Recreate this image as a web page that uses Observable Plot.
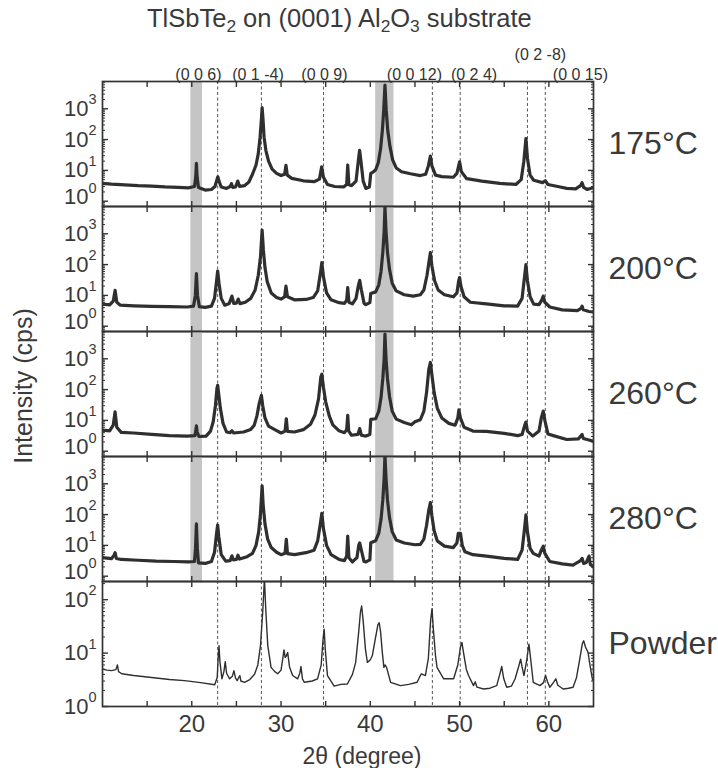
<!DOCTYPE html>
<html><head><meta charset="utf-8">
<script src="https://cdn.jsdelivr.net/npm/d3@7"></script>
<script src="https://cdn.jsdelivr.net/npm/@observablehq/plot@0.6"></script>
<style>
body{margin:0;background:#fff;font-family:"Liberation Sans",Arial,Helvetica,sans-serif;color:#3a3a3a}
#wrap{position:relative;width:718px;height:768px;overflow:hidden;background:#fff}
#wrap svg{position:absolute;left:0}
.t{position:absolute;white-space:nowrap;color:#3a3a3a}
.t sub{font-size:0.68em;vertical-align:-0.3em;line-height:0}
</style></head><body><div id="wrap"></div>
<script>
// ---------- data (2θ in degrees, intensity in cps) ----------
const panelLabels = ["175°C", "200°C", "260°C", "280°C", "Powder"];
const hklNames   = ["(0 0 6)", "(0 1 -4)", "(0 0 9)", "(0 0 12)", "(0 2 4)", "(0 2 -8)", "(0 0 15)"];
const hklLineAt  = [22.9, 27.8, 34.76, 46.95, 50.07, 57.6, 59.6];
const hklLabelAt = [20.75, 27.41, 34.86, 44.94, 51.62, 59.05, 63.53];
const bandStart  = [19.9, 40.6];
const bandEnd    = [21.2, 42.65];
const xTicks     = [15, 20, 25, 30, 35, 40, 45, 50, 55, 60];
const xTickLabels = [20, 30, 40, 50, 60];
const decades    = [1, 10, 100, 1000];

const scan175 = [[10.0,3.8],[11.0,3.6],[12.5,3.4],[14,3.2],[15.5,3.1],[17,2.9],[18.5,2.8],[19.6,2.7],[20.3,3.0],[20.44,6],[20.52,17],[20.6,6],[20.75,2.8],[21.5,2.3],[22.2,2.4],[22.6,3.0],[22.8,4.8],[22.92,6.2],[23.05,4.5],[23.3,2.9],[23.9,2.6],[24.3,3.0],[24.45,3.7],[24.6,2.8],[24.9,2.9],[25.15,4.5],[25.35,3.0],[25.9,3.2],[26.4,4.2],[26.8,7.5],[27.2,15],[27.45,35],[27.65,120],[27.8,450],[27.88,1100],[27.98,450],[28.1,120],[28.3,45],[28.6,20],[29.0,11],[29.5,8],[30.0,6.8],[30.4,7.5],[30.55,14.6],[30.7,7],[31.2,5.5],[32.5,4.6],[33.7,4.3],[34.3,5.2],[34.55,13],[34.75,6],[35.2,3.5],[36.0,3.0],[37.0,2.9],[37.35,3.5],[37.47,15],[37.6,3.4],[37.9,3.2],[38.4,4.5],[38.65,20],[38.8,45],[38.95,20],[39.2,4.5],[39.5,2.6],[39.9,2.9],[40.05,8],[40.3,8.8],[40.6,10.5],[40.9,18],[41.15,50],[41.35,200],[41.5,900],[41.64,5900],[41.78,900],[41.95,200],[42.2,60],[42.5,22],[42.9,12],[43.5,9],[44.5,7.8],[45.6,6.8],[46.2,7.5],[46.5,14],[46.73,29],[46.9,14],[47.3,7],[48.0,6.3],[49.3,6.0],[49.7,8],[50.0,19],[50.2,9],[50.8,5.4],[52.5,4.5],[54.5,3.8],[56.3,3.5],[56.9,5],[57.2,20],[57.43,108],[57.6,25],[57.9,7],[58.3,4.8],[59.3,4.0],[59.6,4.6],[59.9,3.5],[61.0,3.0],[62.0,2.6],[63.0,2.5],[63.55,3.2],[63.72,4.0],[63.9,2.8],[64.3,2.4],[65.0,2.8]];

const scan200 = [[10.0,5.2],[10.8,4.9],[11.2,6.5],[11.41,14.6],[11.6,6],[12.0,4.8],[13.5,4.6],[15.5,4.4],[17.5,4.3],[19.5,4.2],[20.2,4.5],[20.4,10],[20.52,51],[20.64,10],[20.85,4.3],[21.5,4.1],[22.2,4.5],[22.55,8],[22.75,25],[22.9,62],[23.05,25],[23.3,8],[23.7,4.8],[24.2,5.5],[24.5,9.5],[24.7,5.5],[25.0,5.6],[25.2,7.6],[25.4,5.4],[26.0,6],[26.6,8],[27.1,15],[27.45,45],[27.7,180],[27.88,1320],[28.02,300],[28.2,80],[28.45,28],[28.9,12],[29.5,8.5],[30.0,7.6],[30.4,9],[30.55,20],[30.72,9],[31.5,7.2],[32.8,7.4],[33.6,8.5],[34.1,14],[34.4,50],[34.57,117],[34.75,40],[35.1,12],[35.6,7.2],[36.5,5.8],[37.1,5.5],[37.35,7],[37.47,18],[37.6,6],[38.0,5.3],[38.4,8],[38.65,20],[38.81,31],[39.0,15],[39.3,5.5],[39.5,5.0],[39.95,5.8],[40.05,11.5],[40.6,13],[40.95,22],[41.2,60],[41.4,250],[41.55,1200],[41.64,7600],[41.76,1200],[41.92,250],[42.15,70],[42.45,25],[42.9,14],[43.8,10.5],[44.8,9.5],[45.6,10.5],[46.0,15],[46.35,45],[46.6,140],[46.73,245],[46.9,90],[47.2,30],[47.6,15],[48.3,10.5],[49.3,9],[49.7,12],[49.9,30],[50.0,38],[50.15,20],[50.5,9],[51.2,6],[53,5.3],[55,4.6],[56.5,4.5],[57.0,8],[57.25,35],[57.43,100],[57.6,30],[57.9,9],[58.3,5.2],[58.9,5.0],[59.2,7],[59.37,9.5],[59.55,6],[60.1,4.2],[61.5,3.4],[63.2,3.2],[63.6,3.8],[63.72,4.5],[63.85,3.4],[64.5,3.0],[65,2.9]];

const scan260 = [[10.0,4.8],[10.8,4.6],[11.2,7],[11.41,19],[11.6,6],[12.1,4.1],[13.5,3.9],[15.5,3.5],[17.5,3.2],[19.5,3.1],[20.35,3.2],[20.45,4.5],[20.52,6.6],[20.6,4.2],[20.8,3.0],[21.6,3.1],[22.1,4.5],[22.4,9],[22.65,30],[22.82,110],[22.9,138],[23.0,80],[23.2,25],[23.5,8],[23.9,4.2],[24.3,4.0],[24.5,4.6],[24.7,3.9],[25.8,4.2],[26.6,5.1],[27.0,7],[27.3,14],[27.55,35],[27.8,65],[27.95,30],[28.2,12],[28.6,6.5],[29.3,5],[30.0,3.9],[30.45,4.5],[30.59,11.3],[30.72,4.4],[31.5,4.2],[32.5,5],[33.3,7.5],[33.8,15],[34.2,50],[34.45,250],[34.57,316],[34.75,120],[35.0,40],[35.4,14],[35.8,7.2],[36.5,4.6],[37.1,4.0],[37.35,5],[37.47,14.6],[37.58,4.5],[37.9,3.3],[38.6,3.5],[38.81,5.4],[39.0,3.3],[39.5,3.1],[39.95,3.5],[40.05,10.8],[40.6,11.3],[40.95,20],[41.2,55],[41.4,230],[41.55,1000],[41.64,6300],[41.76,1000],[41.92,230],[42.15,60],[42.45,20],[42.9,11],[43.8,8.5],[44.6,7.2],[45.0,9],[45.6,10.5],[46.0,20],[46.3,80],[46.55,450],[46.73,760],[46.9,300],[47.15,80],[47.5,25],[48.0,12],[48.8,8],[49.5,7],[49.8,12],[49.92,22],[50.1,12],[50.5,6],[51.5,4.5],[53,4.4],[55,3.8],[56.5,3.2],[57.0,3.5],[57.3,7],[57.43,8.8],[57.6,4.5],[58.2,3.1],[58.9,4.5],[59.15,12],[59.37,20],[59.55,10],[59.9,3.6],[60.5,3.2],[62,2.4],[63.3,2.5],[63.6,3.2],[63.72,3.5],[63.85,2.6],[64.5,2.3],[65,2.1]];

const scan280 = [[10.0,4.0],[11.0,3.7],[11.3,4.8],[11.41,5.8],[11.55,3.8],[12.1,3.5],[14,3.3],[16,3.1],[18,3.0],[19.6,2.9],[20.3,3.0],[20.42,8],[20.52,50],[20.62,8],[20.75,2.7],[21.5,2.6],[22.2,3.0],[22.55,6],[22.78,25],[22.9,46],[23.02,20],[23.3,5],[23.8,3.1],[24.3,3.2],[24.5,4.6],[24.65,3.4],[25.0,3.5],[25.17,4.8],[25.35,3.6],[26.2,4.3],[26.8,5.5],[27.2,10],[27.5,28],[27.7,110],[27.88,860],[28.0,200],[28.2,50],[28.5,16],[28.9,8.5],[29.5,6],[30.0,5.0],[30.45,5.6],[30.59,15.7],[30.72,5.4],[31.5,5.0],[32.8,5.8],[33.7,7],[34.1,14],[34.4,50],[34.57,110],[34.75,35],[35.1,10],[35.6,5],[36.5,3.5],[37.1,3.2],[37.35,4.5],[37.47,20],[37.6,4.0],[38.0,2.9],[38.5,4],[38.7,10],[38.81,12],[38.95,8],[39.3,3],[39.5,2.9],[39.95,3.4],[40.05,12.2],[40.6,14.2],[40.95,25],[41.2,70],[41.4,300],[41.55,1500],[41.64,8500],[41.76,1500],[41.92,300],[42.15,80],[42.45,28],[42.9,15],[43.8,12],[45.0,10.5],[45.6,10.8],[46.0,16],[46.3,45],[46.55,140],[46.73,245],[46.9,90],[47.15,30],[47.5,14],[48.3,9.5],[49.3,8.5],[49.7,12],[49.85,24.5],[50.1,24.5],[50.3,10],[50.6,6.2],[51.5,5],[53,4.5],[55,3.8],[56.5,3.5],[57.0,7],[57.25,30],[57.43,98],[57.6,28],[57.9,8],[58.25,5.5],[58.9,4.5],[59.15,7],[59.37,9.5],[59.55,5.5],[60.1,3.0],[61.5,2.5],[62.7,2.3],[63.55,3.2],[63.72,3.8],[63.9,2.6],[64.2,2.8],[64.5,4.5],[64.65,2.4],[65,2.0]];

const scanPowder = [[10.0,5.0],[10.5,4.8],[11.04,4.7],[11.5,4.9],[11.67,6.0],[11.8,4.5],[12.16,4.1],[13.5,3.8],[15.5,3.5],[17.5,3.2],[19.2,3.05],[21,2.8],[22.57,2.55],[22.85,3.5],[22.95,8],[23.05,13.7],[23.15,7],[23.38,3.3],[23.6,4.5],[23.75,6.9],[23.9,4.2],[24.24,3.3],[24.55,3.7],[24.72,4.7],[24.9,3.4],[25.09,3.05],[25.3,3.6],[25.39,3.8],[25.5,3.0],[25.91,2.84],[26.5,3.2],[27.03,4.0],[27.4,6],[27.7,14],[27.95,60],[28.14,250],[28.3,60],[28.51,14],[28.88,5.4],[29.3,4.5],[29.63,4.1],[30.0,4.8],[30.2,8],[30.33,11.5],[30.46,8.3],[30.56,8.6],[30.74,10.3],[30.95,5.5],[31.3,3.8],[31.86,3.3],[32.1,4.2],[32.23,5.6],[32.4,3.3],[32.6,2.84],[33.5,3.0],[34.09,3.3],[34.5,6],[34.7,18],[34.83,28],[34.95,12],[35.2,3.8],[35.95,2.4],[36.7,2.6],[37.43,2.64],[38.0,4],[38.36,6.7],[38.7,25],[38.9,60],[39.03,76],[39.2,40],[39.45,12],[39.67,6.7],[40.0,7.5],[40.22,8.9],[40.55,18],[40.85,34],[41.0,37],[41.15,25],[41.35,10],[41.52,5.4],[41.65,6.0],[41.82,5.4],[42.27,2.84],[43.38,2.46],[44.3,2.6],[45.24,2.84],[45.5,3.5],[45.72,4.1],[46.17,3.8],[46.5,8],[46.75,40],[46.91,68],[47.05,30],[47.3,9],[47.47,5.4],[48.22,3.3],[49.33,3.3],[49.8,6],[50.1,13],[50.26,15.8],[50.45,10],[50.75,5],[51.0,3.8],[51.56,2.46],[51.75,2.9],[51.95,2.3],[52.68,2.13],[53.4,2.2],[54.16,2.46],[54.5,4],[54.72,5.6],[54.95,3.3],[55.28,2.29],[55.8,2.4],[56.21,3.28],[56.6,5.5],[56.84,7.7],[57.0,5.5],[57.21,3.78],[57.5,7],[57.77,14.7],[57.95,8],[58.25,2.84],[59.0,2.46],[59.4,2.8],[59.63,3.8],[59.85,2.9],[60.11,2.29],[60.5,2.8],[60.78,3.3],[61.0,2.5],[61.6,2.13],[62.2,2.2],[62.71,2.29],[63.1,3.5],[63.46,7.7],[63.75,15],[63.9,17],[64.1,13],[64.39,10.3],[64.6,6],[64.87,3.28],[65,3.0]];

const scans = [scan175, scan200, scan260, scan280, scanPowder];
const filmDomain = [0.673, 7690];
const powderDomain = [1, 219];

// ---------- layout ----------
const W = 718, ML = 102, MR = 125, PH = 125, TOP0 = 81;
const wrap = document.getElementById("wrap");
const fontFam = "'Liberation Sans', Arial, Helvetica, sans-serif";
const ink = "#3a3a3a";

scans.forEach((scan, i) => {
  const isPowder = i === scans.length - 1;
  const first = i === 0;
  const mt = first ? TOP0 : 4;
  const mb = isPowder ? 62 : 4;
  const domain = isPowder ? powderDomain : filmDomain;
  const [lo, hi] = domain;
  const majors = decades.filter(v => v >= lo * 0.999 && v <= hi);
  const minors = [];
  for (let e = -1; e < 4; e++) for (let m = 2; m < 10; m++) { const v = m * 10 ** e; if (v > lo && v < hi) minors.push(v); }

  const marks = [];
  if (!isPowder) marks.push(Plot.rect(bandStart.map((s, j) => ({x1: s, x2: bandEnd[j]})), {x1: "x1", x2: "x2", fill: "#c5c5c5"}));
  marks.push(Plot.ruleX(hklLineAt, {stroke: "#555", strokeWidth: 1, strokeDasharray: "3,2.5"}));
  marks.push(Plot.line(scan, {x: d => d[0], y: d => d[1], stroke: "#2f2f2f", strokeWidth: isPowder ? 1.4 : 3.2, strokeLinejoin: "round", clip: true}));
  marks.push(Plot.frame({stroke: "#333", strokeWidth: 1.7}));
  for (const a of ["top", "bottom"]) marks.push(Plot.axisX({anchor: a, ticks: xTicks, tickSize: -5, tickFormat: () => "", label: null, strokeWidth: 1.4}));
  for (const a of ["left", "right"]) {
    marks.push(Plot.axisY({anchor: a, ticks: majors, tickSize: -6, tickFormat: () => "", label: null, strokeWidth: 1.4}));
    marks.push(Plot.axisY({anchor: a, ticks: minors, tickSize: -3, tickFormat: () => "", label: null, strokeWidth: 1}));
  }
  // y tick labels 10^n (the lowest film label sits slightly raised, as in the original)
  const raised = isPowder ? [] : majors.filter(v => v === 1);
  const normal = majors.filter(v => !raised.includes(v));
  for (const [set, off] of [[normal, 0], [raised, -4]]) {
    if (!set.length) continue;
    marks.push(Plot.text(set, {y: d => d, frameAnchor: "left", text: () => "10", textAnchor: "end", dx: -14, dy: off, fontSize: 22, fill: ink}));
    marks.push(Plot.text(set, {y: d => d, frameAnchor: "left", text: d => String(Math.round(Math.log10(d))), textAnchor: "start", dx: -14, dy: off - 9, fontSize: 14.5, fill: ink}));
  }
  // panel label
  marks.push(Plot.text([panelLabels[i]], {frameAnchor: "right", dx: 15, textAnchor: "start", fontSize: 32, fill: ink}));
  if (first) {
    marks.push(Plot.text(hklNames, {x: (d, j) => hklLabelAt[j], filter: d => d !== "(0 2 -8)", frameAnchor: "top", dy: -13, fontSize: 16, fill: "#333"}));
    marks.push(Plot.text(hklNames, {x: (d, j) => hklLabelAt[j], filter: d => d === "(0 2 -8)", frameAnchor: "top", dy: -33, fontSize: 16, fill: "#333"}));
  }
  if (isPowder) {
    marks.push(Plot.axisX({anchor: "bottom", ticks: xTickLabels, tickSize: 0, tickPadding: 8, fontSize: 24, label: null, fill: ink}));
  }
  const chart = Plot.plot({
    width: W, height: mt + PH + mb,
    marginLeft: ML, marginRight: MR, marginTop: mt, marginBottom: mb,
    x: {domain: [10, 65]},
    y: {type: "log", domain},
    style: {background: "transparent", overflow: "visible", fontFamily: fontFam, color: "#333"},
    marks
  });
  chart.style.top = (TOP0 + i * PH - mt) + "px";
  wrap.appendChild(chart);
});

function addText(html, css) {
  const d = document.createElement("div");
  d.className = "t";
  d.innerHTML = html;
  Object.assign(d.style, css);
  wrap.appendChild(d);
}
addText("TlSbTe<sub>2</sub> on (0001) Al<sub>2</sub>O<sub>3</sub> substrate", {left: "147px", top: "4px", fontSize: "25.5px"});
addText("Intensity (cps)", {left: "23px", top: "386px", fontSize: "25px", transform: "translate(-50%,-50%) rotate(-90deg)"});
addText("2θ (degree)", {left: "362px", top: "756px", fontSize: "23px", transform: "translate(-50%,-50%)"});
</script></body></html>
